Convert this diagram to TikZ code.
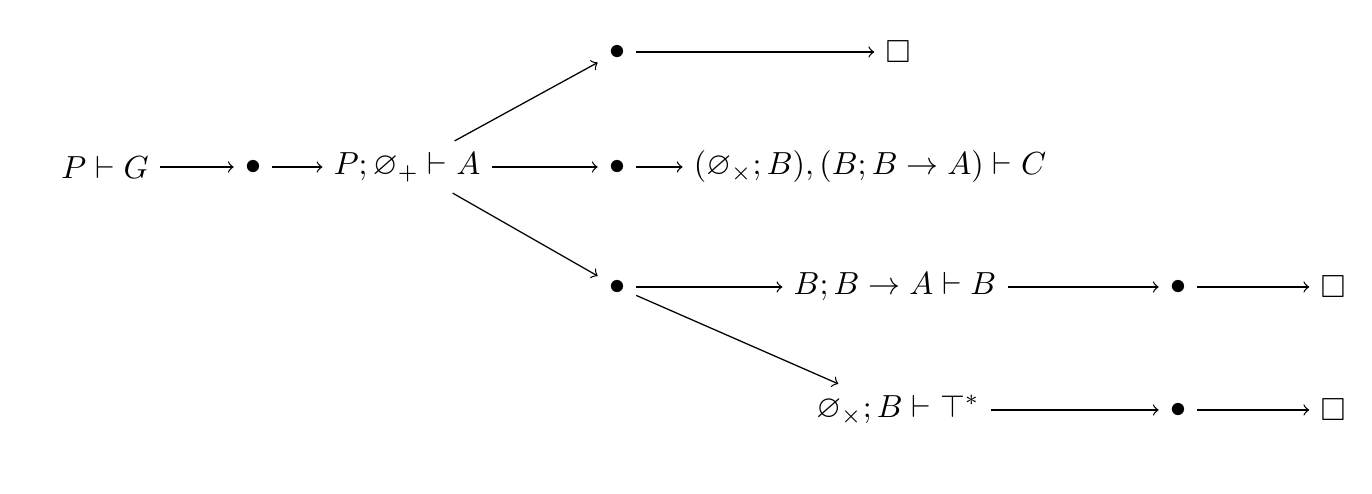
\documentclass[tikz,border=0pt]{standalone}
\usepackage{amsmath}
\usepackage{amssymb}
\usepackage{tikz}

\begin{document}
\begin{tikzpicture}[x=0.011cm,y=-0.011cm]
\useasboundingbox (0,0) rectangle (1372,494);
\node (pg) at (105,167) {$P \vdash G$};
\node (d1) at (253,167) {$\bullet$};
\node (pa) at (407,167) {$P ; \varnothing_{+} \vdash A$};

\node (d2) at (617,52) {$\bullet$};
\node (b2) at (898,52) {$\square$};

\node (d3) at (617,167) {$\bullet$};
\node (c3) at (870,167) {$(\varnothing_{\times} ; B), (B ; B \to A) \vdash C$};

\node (d4) at (617,287) {$\bullet$};
\node (bb) at (895,287) {$B ; B \to A \vdash B$};
\node (d5) at (1178,287) {$\bullet$};
\node (b5) at (1333,287) {$\square$};

\node (tt) at (898,410) {$\varnothing_{\times} ; B \vdash \top^{*}$};
\node (d6) at (1178,410) {$\bullet$};
\node (b6) at (1333,410) {$\square$};

\draw[->] (pg) -- (d1);
\draw[->] (d1) -- (pa);
\draw[->] (pa) -- (d2);
\draw[->] (pa) -- (d3);
\draw[->] (pa) -- (d4);
\draw[->] (d2) -- (b2);
\draw[->] (d3) -- (c3);
\draw[->] (d4) -- (bb);
\draw[->] (bb) -- (d5);
\draw[->] (d5) -- (b5);
\draw[->] (d4) -- (tt);
\draw[->] (tt) -- (d6);
\draw[->] (d6) -- (b6);
\end{tikzpicture}
\end{document}
